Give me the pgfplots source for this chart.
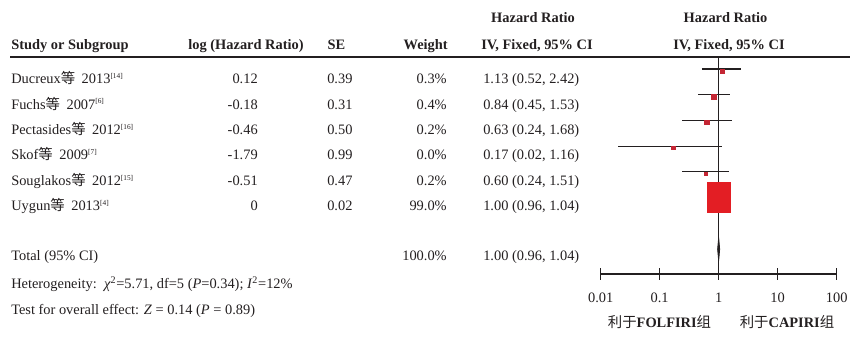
\documentclass[border=0pt]{standalone}
\usepackage{pgfplots}
\pgfplotsset{compat=1.18}
\usepackage{fontspec}
\setmainfont{Liberation Serif}
\newfontfamily\cjk{Noto Sans CJK SC}
\definecolor{txt}{RGB}{35,31,32}
\definecolor{hrred}{RGB}{227,30,36}
\definecolor{smred}{RGB}{196,38,52}
\newcommand{\fs}{\fontsize{10.8pt}{12.5pt}\selectfont}
\newcommand{\deng}{{\cjk 等}\hspace{0.45em}}
\newcommand{\rf}[1]{\textsuperscript{\fontsize{5.5pt}{6pt}\selectfont[#1]}}
\begin{document}
\begin{tikzpicture}
\begin{axis}[
  at={(450.5pt,-205.5pt)}, anchor=south west,
  scale only axis, width=177pt, height=162.75pt,
  xmode=log, xmin=0.01, xmax=100,
  ymin=0.035, ymax=8.467,
  axis x line=bottom, axis y line=none,
  axis line style={-, line width=0.9pt, color=txt},
  xtick={0.01,0.1,1,10,100},
  xticklabels={0.01,0.1,1,10,100},
  xminorticks=false, ytick=\empty,
  tick align=center, major tick length=9pt,
  tick style={line width=0.9pt, color=txt},
  xticklabel style={font=\fs, text=txt, yshift=-6pt},
  clip=false,
]
% reference line at HR = 1
\addplot[txt, line width=0.8pt] coordinates {(1,0.035) (1,8.467)};
% confidence intervals
\addplot[txt, line width=0.8pt] coordinates {(0.52,8) (2.42,8)};
\addplot[txt, line width=0.8pt] coordinates {(0.45,7) (1.53,7)};
\addplot[txt, line width=0.8pt] coordinates {(0.24,6) (1.68,6)};
\addplot[txt, line width=0.8pt] coordinates {(0.02,5) (1.16,5)};
\addplot[txt, line width=0.8pt] coordinates {(0.24,4) (1.51,4)};
\addplot[txt, line width=0.8pt] coordinates {(0.96,3) (1.04,3)};
% point estimates (weighted squares)
\addplot[only marks, mark=square*, mark size=1.5pt, color=smred] coordinates {(1.13,7.93)};
\addplot[only marks, mark=square*, mark size=1.9pt, color=smred] coordinates {(0.84,6.93)};
\addplot[only marks, mark=square*, mark size=1.6pt, color=smred] coordinates {(0.63,5.93)};
\addplot[only marks, mark=square*, mark size=1.2pt, color=smred] coordinates {(0.17,4.93)};
\addplot[only marks, mark=square*, mark size=1.3pt, color=smred, mark options={xscale=0.7}] coordinates {(0.60,3.93)};
\addplot[only marks, mark=square*, mark size=11.25pt, color=hrred, mark options={xscale=0.767}] coordinates {(1.00,3)};
% pooled estimate diamond
\addplot[fill=txt, draw=txt, line width=0.6pt] coordinates {(0.96,1) (1,1.447) (1.04,1) (1,0.553)} -- cycle;
\end{axis}

\begin{scope}[x=0.75pt, y=-0.75pt, every node/.style={inner sep=0pt, text=txt, font=\fs}]
\path (0,0) rectangle (860,338);
\draw[line width=2pt, txt] (10,57) -- (850,57);
% headers
\node[anchor=base, font=\fs\bfseries] at (533,22.7) {Hazard Ratio};
\node[anchor=base, font=\fs\bfseries] at (725.5,22.7) {Hazard Ratio};
\node[anchor=base west, font=\fs\bfseries] at (11,50) {Study or Subgroup};
\node[anchor=base, font=\fs\bfseries] at (246,50) {log (Hazard Ratio)};
\node[anchor=base, font=\fs\bfseries] at (336.5,50) {SE};
\node[anchor=base east, font=\fs\bfseries] at (448,50) {Weight};
\node[anchor=base, font=\fs\bfseries] at (537,50) {IV, Fixed, 95\% CI};
\node[anchor=base, font=\fs\bfseries] at (729,50) {IV, Fixed, 95\% CI};
% study rows
\node[anchor=base west] at (11,84) {Ducreux\deng 2013\rf{14}};
\node[anchor=base west] at (11,109.3) {Fuchs\deng 2007\rf{6}};
\node[anchor=base west] at (11,134.6) {Pectasides\deng 2012\rf{16}};
\node[anchor=base west] at (11,160) {Skof\deng 2009\rf{7}};
\node[anchor=base west] at (11,185.3) {Souglakos\deng 2012\rf{15}};
\node[anchor=base west] at (11,210.7) {Uygun\deng 2013\rf{4}};
\node[anchor=base east] at (258,84) {0.12};
\node[anchor=base east] at (258,109.3) {-0.18};
\node[anchor=base east] at (258,134.6) {-0.46};
\node[anchor=base east] at (258,160) {-1.79};
\node[anchor=base east] at (258,185.3) {-0.51};
\node[anchor=base east] at (258,210.7) {0};
\node[anchor=base west] at (327,84) {0.39};
\node[anchor=base west] at (327,109.3) {0.31};
\node[anchor=base west] at (327,134.6) {0.50};
\node[anchor=base west] at (327,160) {0.99};
\node[anchor=base west] at (327,185.3) {0.47};
\node[anchor=base west] at (327,210.7) {0.02};
\node[anchor=base east] at (447,84) {0.3\%};
\node[anchor=base east] at (447,109.3) {0.4\%};
\node[anchor=base east] at (447,134.6) {0.2\%};
\node[anchor=base east] at (447,160) {0.0\%};
\node[anchor=base east] at (447,185.3) {0.2\%};
\node[anchor=base east] at (447,210.7) {99.0\%};
\node[anchor=base west] at (483,84) {1.13 (0.52, 2.42)};
\node[anchor=base west] at (483,109.3) {0.84 (0.45, 1.53)};
\node[anchor=base west] at (483,134.6) {0.63 (0.24, 1.68)};
\node[anchor=base west] at (483,160) {0.17 (0.02, 1.16)};
\node[anchor=base west] at (483,185.3) {0.60 (0.24, 1.51)};
\node[anchor=base west] at (483,210.7) {1.00 (0.96, 1.04)};
% total rows
\node[anchor=base west] at (11,261) {Total (95\% CI)};
\node[anchor=base east] at (447,261) {100.0\%};
\node[anchor=base west] at (483,261) {1.00 (0.96, 1.04)};
\node[anchor=base west] at (11,289) {Heterogeneity:\ \ \textit{χ}\textsuperscript{2}=5.71, df=5 (\textit{P}=0.34); \textit{I}\textsuperscript{2}=12\%};
\node[anchor=base west] at (11,315) {Test for overall effect: \textit{Z} = 0.14 (\textit{P} = 0.89)};
% favour labels
\node[anchor=base] at (659.5,327) {{\cjk 利于}\textbf{FOLFIRI}{\cjk 组}};
\node[anchor=base] at (787,327) {{\cjk 利于}\textbf{CAPIRI}{\cjk 组}};
\end{scope}
\end{tikzpicture}
\end{document}
